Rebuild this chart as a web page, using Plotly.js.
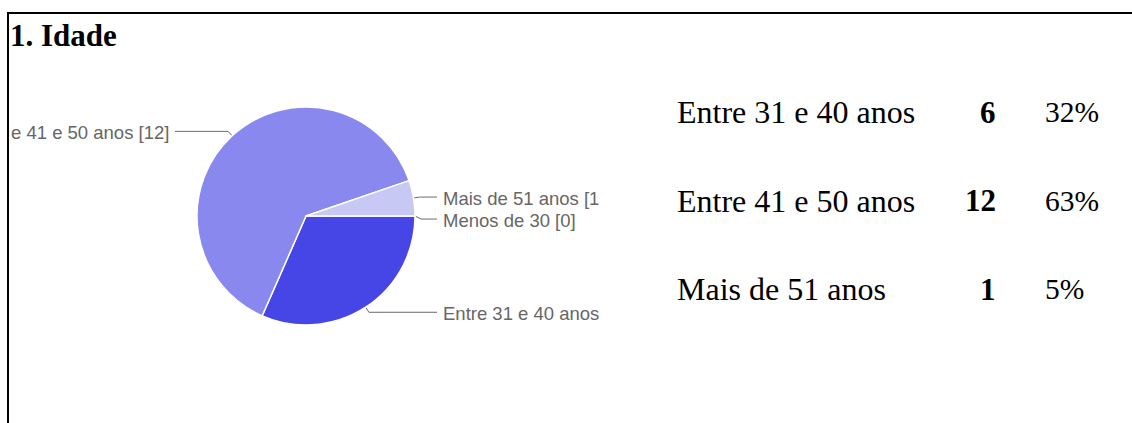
<!DOCTYPE html>
<html>
<head>
<meta charset="utf-8">
<script src="https://cdn.plot.ly/plotly-3.0.1.min.js"></script>
<style>html,body{margin:0;padding:0;background:#fff;}#chart{width:1132px;height:423px;}</style>
</head>
<body>
<div id="chart"></div>
<script>
// ---- data ----
const categories = ["Menos de 30", "Entre 31 e 40 anos", "Entre 41 e 50 anos", "Mais de 51 anos"];
const counts = [0, 6, 12, 1];
// labels as visible beside the pie (clipped by the chart box in the original)
const pieLabels = ["Menos de 30 [0]", "Entre 31 e 40 anos", "e 41 e 50 anos [12]", "Mais de 51 anos [1"];
const sliceColors = ["#2a2ad0", "#4646e6", "#8888ee", "#c8c8f5"];
const titleText = "1. Idade";

// ---- layout constants ----
const W = 1132, H = 423;
const cx = 306, cy = 216, r = 109;
const serif = "'Liberation Serif', 'Times New Roman', Times, serif";
const sans = "'Liberation Sans', Arial, Helvetica, sans-serif";

const total = counts.reduce((a, b) => a + b, 0);

// pie trace
const pie = {
  type: "pie",
  labels: categories,
  values: counts,
  sort: false,
  direction: "clockwise",
  rotation: 90,
  marker: { colors: sliceColors, line: { color: "#ffffff", width: 1.5 } },
  textinfo: "none",
  hoverinfo: "label+value+percent",
  showlegend: false,
  domain: { x: [(cx - r) / W, (cx + r) / W], y: [1 - (cy + r) / H, 1 - (cy - r) / H] }
};

// leader lines & labels, from slice mid-angles
const items = [];
let a0 = 0;
counts.forEach((v, i) => {
  const span = v / total * 360;
  const mid = (a0 + span / 2) * Math.PI / 180;
  a0 += span;
  const c = Math.cos(mid), s = Math.sin(mid);
  items.push({
    i: i,
    ex: cx + r * c, ey: cy + r * s,
    bx: cx + (r + 6) * c, by: cy + (r + 6) * s,
    side: c >= -1e-9 ? 1 : -1
  });
});
[1, -1].forEach(side => {
  const grp = items.filter(d => d.side === side).sort((a, b) => a.by - b.by);
  let last = -Infinity;
  grp.forEach(d => { d.ly = Math.max(d.by, last + 22); last = d.ly; });
});

const traces = [pie];
const annotations = [];
items.forEach(d => {
  const endX = cx + d.side * (r + 22);
  traces.push({
    type: "scatter", mode: "lines", xaxis: "x", yaxis: "y",
    x: [d.ex, d.bx, endX], y: [d.ey, d.ly, d.ly],
    line: { color: "#6a6a6a", width: 1 }, hoverinfo: "skip", showlegend: false
  });
  annotations.push({
    xref: "x", yref: "y", x: endX + d.side * 4, y: d.ly + 1,
    xanchor: d.side > 0 ? "left" : "right", yanchor: "middle",
    text: pieLabels[d.i], showarrow: false,
    font: { family: sans, size: 18.5, color: "#666666" }
  });
});

// title
annotations.push({
  xref: "x", yref: "y", x: 8, y: 35, xanchor: "left", yanchor: "middle",
  text: "<b>" + titleText + "</b>", showarrow: false,
  font: { family: serif, size: 31, color: "#000000" }
});

// summary table (non-zero answers)
const rows = categories.map((c, i) => ({ c: c, v: counts[i] })).filter(d => d.v > 0);
rows.forEach((d, k) => {
  const y = 112 + k * 88.5;
  const pct = Math.round(d.v / total * 100) + "%";
  annotations.push({ xref: "x", yref: "y", x: 675, y: y, xanchor: "left", yanchor: "middle",
    text: d.c, showarrow: false, font: { family: serif, size: 32, color: "#000" } });
  annotations.push({ xref: "x", yref: "y", x: 998, y: y, xanchor: "right", yanchor: "middle",
    text: "<b>" + d.v + "</b>", showarrow: false, font: { family: serif, size: 31, color: "#000" } });
  annotations.push({ xref: "x", yref: "y", x: 1043, y: y, xanchor: "left", yanchor: "middle",
    text: pct, showarrow: false, font: { family: serif, size: 29.5, color: "#000" } });
});

const layout = {
  width: W, height: H,
  margin: { l: 0, r: 0, t: 0, b: 0, pad: 0 },
  paper_bgcolor: "#ffffff", plot_bgcolor: "rgba(0,0,0,0)",
  showlegend: false,
  xaxis: { range: [0, W], visible: false, fixedrange: true, domain: [0, 1] },
  yaxis: { range: [H, 0], visible: false, fixedrange: true, domain: [0, 1] },
  shapes: [
    { type: "line", xref: "x", yref: "y", x0: 7, x1: W, y0: 13, y1: 13, line: { color: "#000", width: 2 } },
    { type: "line", xref: "x", yref: "y", x0: 8, x1: 8, y0: 12, y1: H, line: { color: "#000", width: 2 } }
  ],
  annotations: annotations
};

Plotly.newPlot("chart", traces, layout, { displayModeBar: false, staticPlot: true });
</script>
</body>
</html>
